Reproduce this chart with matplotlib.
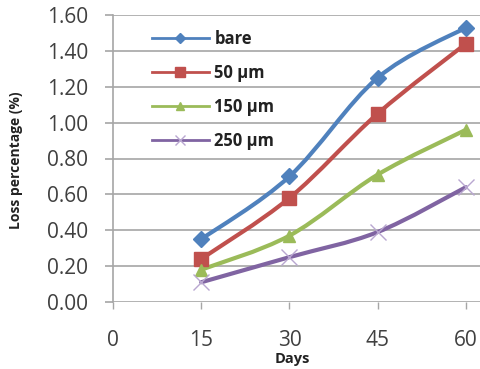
import matplotlib
matplotlib.use('Agg')
import matplotlib.pyplot as plt
from matplotlib.path import Path
from matplotlib.patches import PathPatch
from matplotlib.lines import Line2D

days = [15, 30, 45, 60]
bare = [0.35, 0.70, 1.25, 1.53]
um50 = [0.24, 0.58, 1.05, 1.44]
um150 = [0.18, 0.37, 0.71, 0.96]
um250 = [0.11, 0.25, 0.39, 0.64]
labels = ['bare', '50 \u00b5m', '150 \u00b5m', '250 \u00b5m']

colors = ['#4F81BD', '#C0504D', '#9BBB59', '#8064A2']
markers = ['D', 's', '^', 'x']
msizes = [8, 10, 8.5, 11]
mfc = ['#4F81BD', '#C0504D', '#9BBB59', '#B9A7D0']


def smooth_path(xs, ys):
    # Catmull-Rom style bezier through the points, like a spreadsheet "smoothed line"
    pts = list(zip(xs, ys))
    verts = [pts[0]]
    codes = [Path.MOVETO]
    n = len(pts)
    for i in range(n - 1):
        p0 = pts[i - 1] if i > 0 else pts[i]
        p1 = pts[i]
        p2 = pts[i + 1]
        p3 = pts[i + 2] if i + 2 < n else pts[i + 1]
        c1 = (p1[0] + (p2[0] - p0[0]) / 6, p1[1] + (p2[1] - p0[1]) / 6)
        c2 = (p2[0] - (p3[0] - p1[0]) / 6, p2[1] - (p3[1] - p1[1]) / 6)
        verts += [c1, c2, p2]
        codes += [Path.CURVE4] * 3
    return Path(verts, codes)


fig = plt.figure(figsize=(4.8, 3.69), dpi=100)
ax = fig.add_axes([113 / 480, 1 - 302 / 369, 1 - 113 / 480, 287 / 369])

handles = []
for ys, c, m, ms, fc, lab in zip([bare, um50, um150, um250], colors, markers, msizes, mfc, labels):
    ax.add_patch(PathPatch(smooth_path(days, ys), fill=False, edgecolor=c, lw=3.0,
                           capstyle='round', joinstyle='round', zorder=3))
    if m == 'x':
        ax.plot(days, ys, ls='none', marker=m, ms=ms, mew=1.0, color=fc, zorder=4)
    else:
        ax.plot(days, ys, ls='none', marker=m, ms=ms, color=c, zorder=4)
    handles.append(Line2D([], [], color=c, lw=2.0, marker=m,
                          ms=ms * 0.65, mew=1.0 if m == 'x' else 1,
                          mfc=fc, mec=fc if m == 'x' else c))

ax.set_xlim(0, 62.4)
ax.set_ylim(0, 1.6)
ax.set_xticks([0, 15, 30, 45, 60])
ax.set_yticks([0, 0.2, 0.4, 0.6, 0.8, 1.0, 1.2, 1.4, 1.6])
ax.set_yticklabels(['%.2f' % v for v in ax.get_yticks()])
ax.yaxis.grid(True, color='#A6A6A6', lw=1.2)
ax.set_axisbelow(True)
for s in ['top', 'right', 'bottom']:
    ax.spines[s].set_visible(False)
ax.spines['left'].set_color('#A6A6A6')
ax.spines['left'].set_linewidth(1.2)
ax.tick_params(axis='y', length=6, color='#A6A6A6', width=1.2, pad=12,
               labelsize=15, labelcolor='#404040')
ax.tick_params(axis='x', length=5, color='#A6A6A6', width=1.0, pad=15,
               labelsize=15, labelcolor='#404040')
for t in ax.get_xticklabels() + ax.get_yticklabels():
    t.set_family('Open Sans')

fig.text(292 / 480, 1 - 359 / 369, 'Days', fontsize=10.5, fontweight='bold',
         family='Open Sans', ha='center', va='center', color='#222222')
fig.text(16 / 480, 1 - 160 / 369, 'Loss percentage (%)', fontsize=10, fontweight='bold',
         family='Open Sans', ha='center', va='center', rotation=90, color='#222222')

leg = ax.legend(handles, labels, loc='upper left', bbox_to_anchor=(0.065, 1.0),
                frameon=False, handlelength=3.4, labelspacing=0.95, handletextpad=0.35,
                prop={'family': 'Open Sans', 'weight': 'bold', 'size': 12})
for t in leg.get_texts():
    t.set_color('#222222')

fig.savefig('out.png', dpi=100)
